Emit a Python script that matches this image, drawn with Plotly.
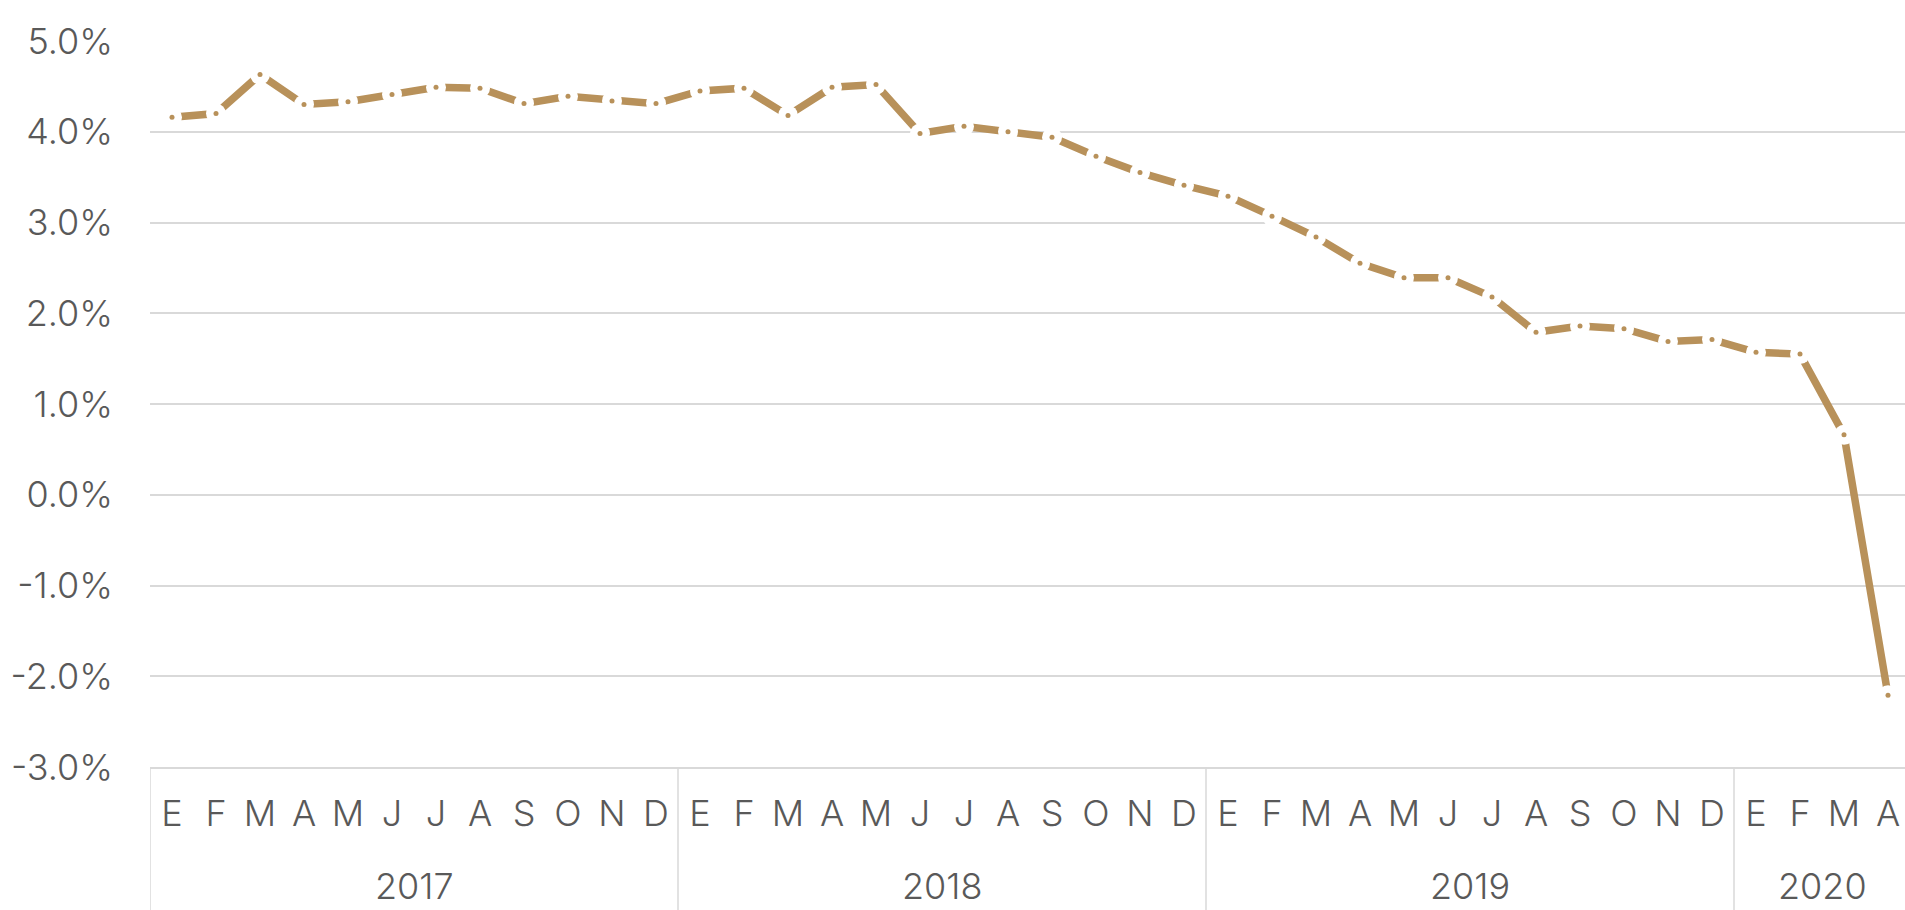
import plotly.graph_objects as go

# ---------------- data ----------------
years = ["2017", "2018", "2019", "2020"]
months_per_year = [12, 12, 12, 4]
month_letters = ["E", "F", "M", "A", "M", "J", "J", "A", "S", "O", "N", "D"]

values_2017 = [4.16, 4.20, 4.63, 4.30, 4.33, 4.41, 4.49, 4.48, 4.31, 4.39, 4.34, 4.31]
values_2018 = [4.45, 4.48, 4.18, 4.49, 4.52, 3.98, 4.06, 4.00, 3.94, 3.73, 3.55, 3.41]
values_2019 = [3.29, 3.07, 2.84, 2.55, 2.39, 2.39, 2.18, 1.79, 1.86, 1.83, 1.69, 1.71]
values_2020 = [1.57, 1.55, 0.66, -2.21]

y_ticks = [-3, -2, -1, 0, 1, 2, 3, 4, 5]

# ---------------- build ----------------
values = values_2017 + values_2018 + values_2019 + values_2020
tick_text = []
for n in months_per_year:
    tick_text += month_letters[:n]
x = list(range(len(values)))

GOLD = "#B8915A"
GRID = "#D9D9D9"
TEXT = "#595959"
FONT = "Inter, 'Open Sans', sans-serif"
FS = 36

W, H = 1905, 910
ML, MR, MT, MB = 150, 0, 41, 143
cat_px = 44.0
x_end = -0.5 + (W - ML - MR) / cat_px
plot_h = H - MT - MB

fig = go.Figure()
fig.add_trace(go.Scatter(x=x, y=values, mode="lines",
                         line=dict(color=GOLD, width=7.5),
                         hoverinfo="skip", showlegend=False, cliponaxis=False))
fig.add_trace(go.Scatter(x=x, y=values, mode="markers",
                         marker=dict(color="white", size=20, line=dict(width=0)),
                         hoverinfo="skip", showlegend=False, cliponaxis=False))
fig.add_trace(go.Scatter(x=x, y=values, mode="markers",
                         marker=dict(color=GOLD, size=5, line=dict(width=0)),
                         showlegend=False, cliponaxis=False,
                         hovertemplate="%{y:.1f}%<extra></extra>"))

tfont = dict(family=FONT, size=FS, color=TEXT, weight=300)

# year labels and dividers
start = 0
bottom_paper = -(MB + 10) / plot_h
for yr, n in zip(years, months_per_year):
    fig.add_annotation(x=start + (n - 1) / 2, y=-(886 - 767) / plot_h,
                       xref="x", yref="paper", text=yr, showarrow=False,
                       font=tfont, xanchor="center", yanchor="middle")
    fig.add_shape(type="line", xref="x", yref="paper",
                  x0=start - 0.5, x1=start - 0.5, y0=0, y1=bottom_paper,
                  line=dict(color=GRID, width=1.5))
    start += n

fig.update_layout(
    width=W, height=H,
    margin=dict(l=ML, r=MR, t=MT, b=MB),
    paper_bgcolor="white", plot_bgcolor="white",
    font=dict(family=FONT, size=FS, color=TEXT),
    showlegend=False,
    xaxis=dict(range=[-0.5, x_end], tickmode="array", tickvals=x, ticktext=tick_text,
               showgrid=False, zeroline=False, showline=True, linecolor=GRID, linewidth=1.5,
               ticks="", ticklabelstandoff=14, tickfont=tfont),
    yaxis=dict(range=[-3, 5], tickmode="array", tickvals=y_ticks,
               ticktext=[f"{v:.1f}%" for v in y_ticks],
               showgrid=True, gridcolor=GRID, gridwidth=1.5, zeroline=False,
               showline=False, ticks="", ticklabelstandoff=36, tickfont=tfont),
)

fig.write_html("out.html",
               config={"displayModeBar": False},
               post_script="document.body.style.margin='0';document.body.style.overflow='hidden';")
